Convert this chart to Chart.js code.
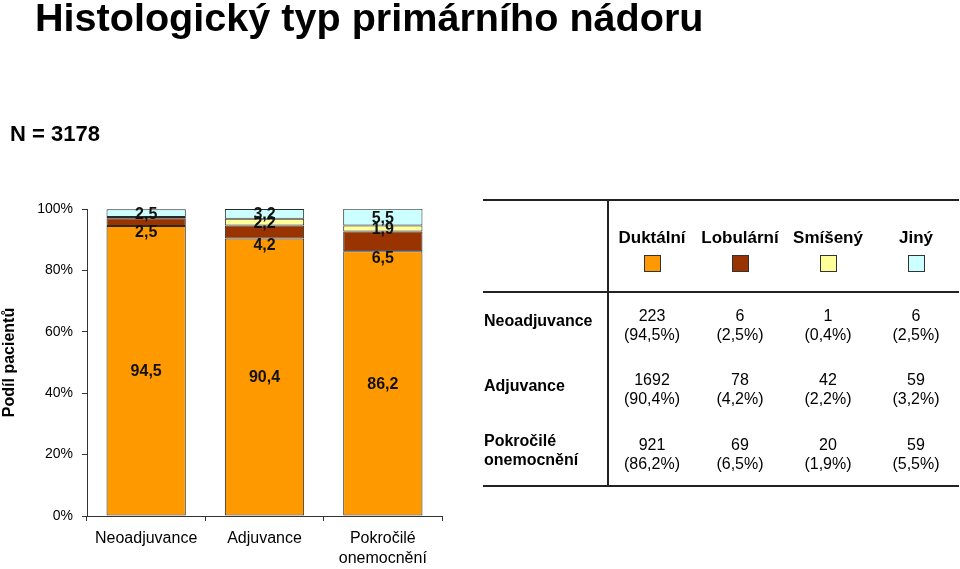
<!DOCTYPE html>
<html><head><meta charset="utf-8">
<script src="https://cdn.jsdelivr.net/npm/chart.js@4.4.1/dist/chart.umd.min.js"></script>
<style>
html,body{margin:0;padding:0;background:#fff;}
#wrap{position:relative;width:960px;height:569px;overflow:hidden;font-family:"Liberation Sans",Arial,sans-serif;}
#title{position:absolute;left:35px;top:-3px;font-size:39.6px;font-weight:bold;line-height:40px;white-space:nowrap;color:#000;}
#n{position:absolute;left:10px;top:123px;font-size:22px;font-weight:bold;line-height:22px;color:#000;white-space:nowrap;}
canvas{position:absolute;left:0;top:0;}
</style></head><body>
<div id="wrap"><canvas id="c" width="960" height="569"></canvas><div id="title">Histologický typ primárního nádoru</div><div id="n">N = 3178</div></div>
<script>
const categories = ['Neoadjuvance', 'Adjuvance', 'Pokročilé onemocnění'];
const seriesNames = ['Duktální', 'Lobulární', 'Smíšený', 'Jiný'];
const duktalni = [94.5, 90.4, 86.2];
const lobularni = [2.5, 4.2, 6.5];
const smiseny = [0.4, 2.2, 1.9];
const jiny = [2.5, 3.2, 5.5];
const countsDuktalni = [223, 1692, 921];
const countsLobularni = [6, 78, 69];
const countsSmiseny = [1, 42, 20];
const countsJiny = [6, 59, 59];
const yTicks = [0, 20, 40, 60, 80, 100];
const colors = ['#FF9900', '#993300', '#FFFF99', '#CCFFFF'];

const FAMILY = '"Liberation Sans", Arial, sans-serif';
Chart.defaults.font.family = FAMILY;
const fmt = v => v.toFixed(1).replace('.', ',');

const seriesValues = [duktalni, lobularni, smiseny, jiny];
const seriesCounts = [countsDuktalni, countsLobularni, countsSmiseny, countsJiny];

const labelPlugin = {
  id: 'segLabels',
  afterDatasetsDraw(chart) {
    const ctx = chart.ctx;
    ctx.save();
    ctx.font = 'bold 16px ' + FAMILY;
    ctx.fillStyle = '#111';
    ctx.textAlign = 'center';
    ctx.textBaseline = 'middle';
    chart.data.datasets.forEach((ds, di) => {
      const meta = chart.getDatasetMeta(di);
      meta.data.forEach((bar, i) => {
        const v = ds.data[i];
        if (v < 1) return;
        let y = (bar.y + bar.base) / 2;
        if (ds.labelAnchor === 'base') y = bar.base + 6;
        ctx.fillText(fmt(v), bar.x, y + 1);
      });
    });
    ctx.restore();
  }
};

const tablePlugin = {
  id: 'table',
  afterDraw(chart) {
    const ctx = chart.ctx;
    const L = 483, R = 959, T = 200, M = 292, B = 486, V = 608;
    const colX = [652, 740, 828, 916];
    ctx.save();
    ctx.strokeStyle = '#222';
    ctx.lineWidth = 2;
    ctx.beginPath();
    ctx.moveTo(L, T); ctx.lineTo(R, T);
    ctx.moveTo(L, M); ctx.lineTo(R, M);
    ctx.moveTo(L, B); ctx.lineTo(R, B);
    ctx.moveTo(V, T); ctx.lineTo(V, B);
    ctx.stroke();

    ctx.fillStyle = '#000';
    ctx.textAlign = 'center';
    ctx.textBaseline = 'middle';
    ctx.font = 'bold 17px ' + FAMILY;
    seriesNames.forEach((n, k) => ctx.fillText(n, colX[k], 238));
    ctx.lineWidth = 1;
    ctx.strokeStyle = '#333';
    chart.data.datasets.forEach((ds, k) => {
      ctx.fillStyle = ds.backgroundColor;
      ctx.fillRect(colX[k] - 8, 255, 17, 17);
      ctx.strokeRect(colX[k] - 8 + 0.5, 255.5, 16, 16);
    });

    ctx.fillStyle = '#000';
    ctx.textAlign = 'left';
    ctx.font = 'bold 16px ' + FAMILY;
    const rowLabelY = [[322], [387], [442, 461]];
    categories.forEach((c, i) => {
      const parts = rowLabelY[i].length > 1 ? c.split(' ') : [c];
      parts.forEach((p, j) => ctx.fillText(p, 484, rowLabelY[i][j]));
    });

    ctx.textAlign = 'center';
    ctx.font = '16px ' + FAMILY;
    const rowValY = [[317, 336], [381, 400], [446, 465]];
    categories.forEach((c, i) => {
      seriesNames.forEach((s, k) => {
        ctx.fillText(String(seriesCounts[k][i]), colX[k], rowValY[i][0]);
        ctx.fillText('(' + fmt(seriesValues[k][i]) + '%)', colX[k], rowValY[i][1]);
      });
    });
    ctx.restore();
  }
};

new Chart(document.getElementById('c'), {
  type: 'bar',
  data: {
    labels: categories,
    datasets: seriesNames.map((n, k) => ({
      label: n,
      data: seriesValues[k],
      backgroundColor: colors[k],
      borderColor: '#2a2a2a',
      borderWidth: 1,
      borderSkipped: false,
      labelAnchor: k === 1 ? 'base' : 'center'
    }))
  },
  options: {
    responsive: false,
    animation: false,
    devicePixelRatio: 1,
    layout: { padding: { top: 209, right: 518, bottom: 0, left: 0 } },
    plugins: { legend: { display: false }, tooltip: { enabled: false }, title: { display: false } },
    datasets: { bar: { categoryPercentage: 1, barPercentage: 0.67 } },
    scales: {
      x: {
        stacked: true,
        grid: { offset: true, drawOnChartArea: false, tickLength: 5, color: '#333' },
        border: { color: '#333', width: 1 },
        ticks: {
          font: { size: 16, lineHeight: 1.25 }, color: '#000', padding: 8, maxRotation: 0,
          callback(v, i) { const s = categories[i]; return s.includes(' ') ? s.split(' ') : s; }
        },
        afterFit(s) { s.height = 53; }
      },
      y: {
        stacked: true, min: 0, max: 100,
        afterBuildTicks(s) { s.ticks = yTicks.map(v => ({ value: v })); },
        ticks: { font: { size: 14 }, color: '#000', padding: 9, callback: v => v + '%' },
        grid: { drawOnChartArea: false, tickLength: 5, color: '#333' },
        border: { color: '#333', width: 1 },
        title: { display: true, text: 'Podíl pacientů', font: { size: 16, weight: 'bold' }, color: '#000', padding: 0 },
        afterFit(s) { s.width = 87; }
      }
    }
  },
  plugins: [labelPlugin, tablePlugin]
});
</script>
</body></html>
